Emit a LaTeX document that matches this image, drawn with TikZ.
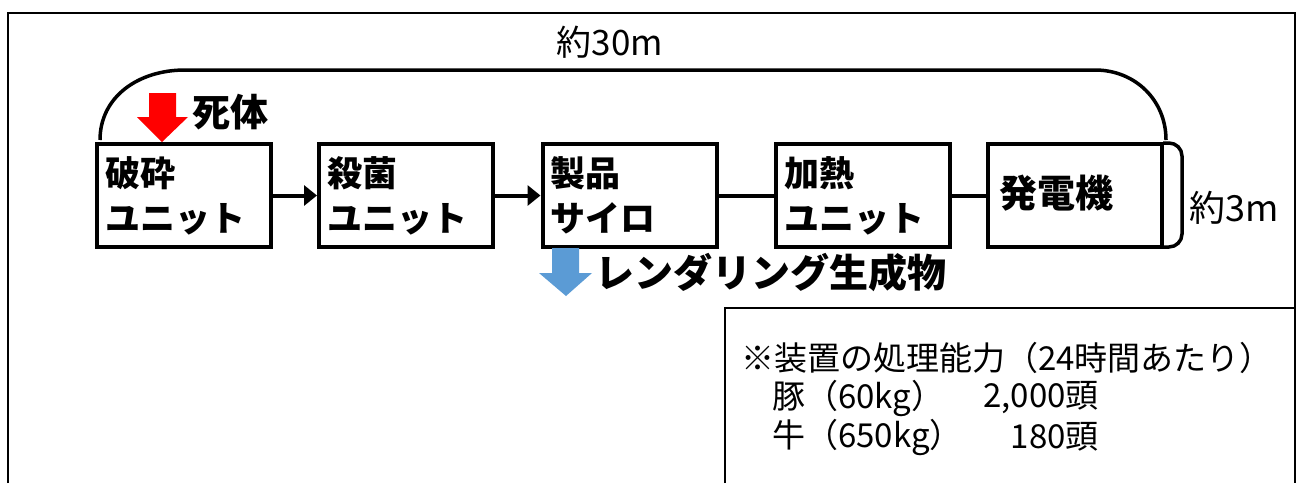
\documentclass[tikz,border=0pt]{standalone}
\usepackage{fontspec}
\setmainfont{Noto Sans CJK JP}
\usetikzlibrary{arrows.meta}
\definecolor{redarrow}{HTML}{FF0000}
\definecolor{bluearrow}{HTML}{5B9BD5}
\tikzset{
  unitbox/.style={draw, line width=4pt, minimum width=174pt, minimum height=103pt,
    text width=158pt, inner xsep=8pt, align=left,
    font=\fontsize{35}{45}\selectfont\bfseries},
  flow/.style={line width=4pt},
  flowarrow/.style={line width=4pt, -{Triangle[length=13pt,width=20pt]}},
  dimline/.style={line width=3.5pt},
  biglabel/.style={font=\fontsize{38}{40}\selectfont\bfseries, inner sep=0pt},
  dimlabel/.style={font=\fontsize{35}{38}\selectfont, inner sep=0pt},
  notetext/.style={font=\fontsize{33}{36}\selectfont, inner sep=0pt, anchor=west},
}
\begin{document}
\begin{tikzpicture}[x=1pt,y=-1pt]
\useasboundingbox (0,0) rectangle (1301,483);
% outer frame
\draw[line width=2pt] (8,483) -- (8,13) -- (1295,13) -- (1295,483);
% note box
\draw[line width=2pt] (725,483) -- (725,308) -- (1295,308);
% boxes
\node[unitbox] (b1) at (184,195.5) {破砕\\ユニット};
\node[unitbox] (b2) at (406,195.5) {殺菌\\ユニット};
\node[unitbox] (b3) at (629.5,195.5) {製品\\サイロ};
\node[unitbox] (b4) at (863,195.5) {加熱\\ユニット};
\node[unitbox, text width=152pt, inner xsep=11pt, font=\fontsize{38}{45}\selectfont\bfseries] (b5) at (1075,195.5) {発電機\vphantom{g}\\[-6pt]};
% connectors
\draw[flowarrow] (b1) -- (b2);
\draw[flowarrow] (b2) -- (b3);
\draw[flow] (b3) -- (b4);
\draw[flow] (b4) -- (b5);
% 30m dimension arc
\draw[dimline] (100,140) .. controls (100,97) and (138,70) .. (185,70) -- (1095,70)
  .. controls (1135,70) and (1166,100) .. (1166,140);
\node[dimlabel] (l30) at (610,42) {約30m};
% 3m bracket
\draw[dimline, rounded corners=13pt] (1163,143) -- (1182,143) -- (1182,247) -- (1163,247);
\node[dimlabel, font=\fontsize{36}{38}\selectfont, anchor=west] (l3) at (1189,208) {約3m};
% red arrow
\fill[redarrow] (149,93) -- (176,93) -- (176,117) -- (188,117) -- (162,142) -- (137,117) -- (149,117) -- cycle;
\node[biglabel, anchor=west] (shitai) at (192,112) {死体};
% blue arrow
\fill[bluearrow] (552,248) -- (579,248) -- (579,273) -- (592,273) -- (566,296) -- (539,273) -- (552,273) -- cycle;
\node[biglabel, font=\fontsize{39}{42}\selectfont\bfseries, anchor=west] (render) at (595,273) {レンダリング生成物};
% note
\node[notetext] (n1) at (741,358) {※装置の処理能力（24時間あたり）};
\node[notetext] (n2) at (772,398) {豚（60kg）};
\node[notetext, anchor=east] (n2b) at (1099,398) {2,000頭};
\node[notetext] (n3) at (772,437) {牛（650kg）};
\node[notetext, anchor=east] (n3b) at (1099,437) {180頭};
\end{tikzpicture}
\end{document}
